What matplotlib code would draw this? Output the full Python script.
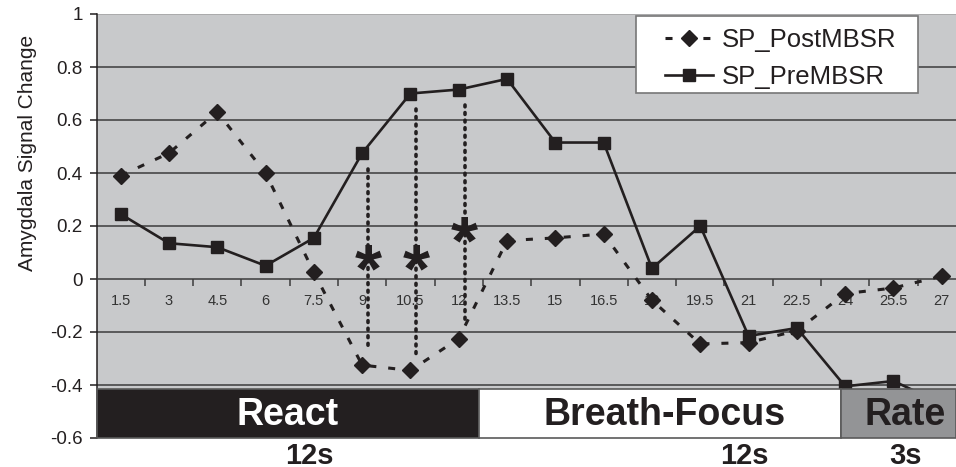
import matplotlib
matplotlib.use("Agg")
import matplotlib.pyplot as plt
from matplotlib.patches import Rectangle

plt.rcParams['font.family'] = ['Liberation Sans', 'DejaVu Sans']

# ---- data ----
time_labels = ['1.5', '3', '4.5', '6', '7.5', '9', '10.5', '12', '13.5',
               '15', '16.5', '18', '19.5', '21', '22.5', '24', '25.5', '27']
post_mbsr = [0.39, 0.475, 0.63, 0.40, 0.025, -0.325, -0.345, -0.225, 0.145,
             0.155, 0.17, -0.08, -0.245, -0.24, -0.195, -0.055, -0.034, 0.011]
pre_mbsr = [0.245, 0.135, 0.12, 0.05, 0.155, 0.475, 0.70, 0.715, 0.755,
            0.515, 0.515, 0.04, 0.20, -0.215, -0.185, -0.405, -0.385, -0.47]
sig_idx = [5, 6, 7]                 # significant time points (9, 10.5, 12 s)
sig_star_y = [0.083, 0.083, 0.19]
phases = ['React', 'Breath-Focus', 'Rate']
phase_durations = ['12s', '12s', '3s']
y_ticks = [1, 0.8, 0.6, 0.4, 0.2, 0, -0.2, -0.4, -0.6]
y_tick_labels = ['1', '0.8', '0.6', '0.4', '0.2', '0', '-0.2', '-0.4', '-0.6']

# ---- layout / style ----
W, H = 956, 467
fig = plt.figure(figsize=(W / 100, H / 100), dpi=100)
ax_left, ax_right, ax_top, ax_bot = 96.5, 956, 14, 438
ax = fig.add_axes([ax_left / W, 1 - ax_bot / H, (ax_right - ax_left) / W, (ax_bot - ax_top) / H])
cat_w = 48.3
x_max = (ax_right - ax_left) / cat_w - 0.5
ax.set_facecolor('#c8c9cb')

ink = '#231f20'
x = list(range(len(time_labels)))

# gridlines
for v in y_ticks:
    if v == 1:
        ax.axhline(v, color='#a6a6a6', lw=1.2, zorder=1)
    elif v != 0:
        ax.axhline(v, color='#3c3c3c', lw=1.1, zorder=1)

for s in ['top', 'right']:
    ax.spines[s].set_visible(False)
ax.spines['bottom'].set_position(('data', 0))
ax.spines['bottom'].set_color('#3c3c3c')
ax.spines['bottom'].set_linewidth(1.1)
ax.spines['left'].set_color(ink)
ax.spines['left'].set_linewidth(1.1)

# x ticks: marks at category boundaries, labels at centres
ax.set_xticks([i - 0.5 for i in range(1, len(time_labels) + 1)])
ax.set_xticklabels([])
ax.tick_params(axis='x', which='major', direction='out', length=5, width=1.1, color='#3c3c3c')
ax.set_xticks(x, minor=True)
ax.set_xticklabels(time_labels, minor=True, fontsize=10.5, color='#333333')
ax.tick_params(axis='x', which='minor', length=0, pad=11)

ax.set_yticks(y_ticks)
ax.set_yticklabels(y_tick_labels, fontsize=13.5, color=ink)
ax.tick_params(axis='y', direction='out', length=5, width=1.1, color=ink, pad=5)

ax.set_ylabel('Amygdala Signal Change', fontsize=15, color=ink)
ax.yaxis.set_label_coords(-59 / (ax_right - ax_left), (ax_bot - 153) / (ax_bot - ax_top))

# series
ax.plot(x, post_mbsr, color=ink, lw=2.2, linestyle=(0, (2.3, 3.9)), dash_capstyle='butt',
        marker='D', markersize=8, markerfacecolor=ink, markeredgecolor=ink,
        label='SP_PostMBSR', zorder=4)
ax.plot(x, pre_mbsr, color=ink, lw=1.9, linestyle='-',
        marker='s', markersize=9, markerfacecolor=ink, markeredgecolor=ink,
        label='SP_PreMBSR', zorder=4)

# dotted connectors and asterisks
for i, sy in zip(sig_idx, sig_star_y):
    xi = x[i] + 0.12
    ax.plot([xi, xi], [pre_mbsr[i] - 0.06, post_mbsr[i] + 0.06], color=ink, lw=2.6,
            linestyle=(0, (0.5, 1.6)), dash_capstyle='round', zorder=3)
    ax.annotate('*', xy=(xi, sy), xytext=(0, -25), textcoords='offset points',
                ha='center', va='baseline', fontsize=50, fontweight='bold', color=ink, zorder=5)

# phase bars
bar_bottom, bar_top = -0.6, -0.415
edges = [-0.5, 7.42, 14.91, x_max]
colors = ['#231f20', '#ffffff', '#939496']
text_colors = ['#ffffff', ink, ink]
label_x = [3.46, 11.27, 16.24]
dur_x = [3.90, 12.91, 16.24]
for k, name in enumerate(phases):
    ax.bar(edges[k], bar_top - bar_bottom, width=edges[k + 1] - edges[k], bottom=bar_bottom,
           align='edge', color=colors[k], edgecolor='#5a5a5a', linewidth=1.2, zorder=6, clip_on=False)
    ax.text(label_x[k], (bar_top + bar_bottom) / 2 - 0.005, name, ha='center', va='center',
            fontsize=27, fontweight='bold', color=text_colors[k], zorder=7)
    ax.text(dur_x[k], -0.697, phase_durations[k], ha='center', va='baseline',
            fontsize=21, fontweight='bold', color=ink, zorder=7, clip_on=False)

# limits set last (set_xticks may widen the view)
ax.set_xlim(-0.5, x_max)
ax.set_ylim(-0.6, 1.0)

# legend: frame drawn as a figure-space box, entries placed inside it
box = Rectangle((636 / W, 1 - 93 / H), (918 - 636) / W, (93 - 16) / H, transform=fig.transFigure,
                facecolor='white', edgecolor='#777777', linewidth=1.2, zorder=7.5, clip_on=False)
ax.add_patch(box)
leg = ax.legend(loc='upper left', bbox_to_anchor=(665 / W, 1 - 28 / H), bbox_transform=fig.transFigure,
                fontsize=18.5, frameon=False, handlelength=1.85, handletextpad=0.35,
                labelspacing=0.5, borderpad=0, borderaxespad=0)
leg.set_zorder(8)
for t in leg.get_texts():
    t.set_color(ink)

fig.savefig('out.png', dpi=100)
